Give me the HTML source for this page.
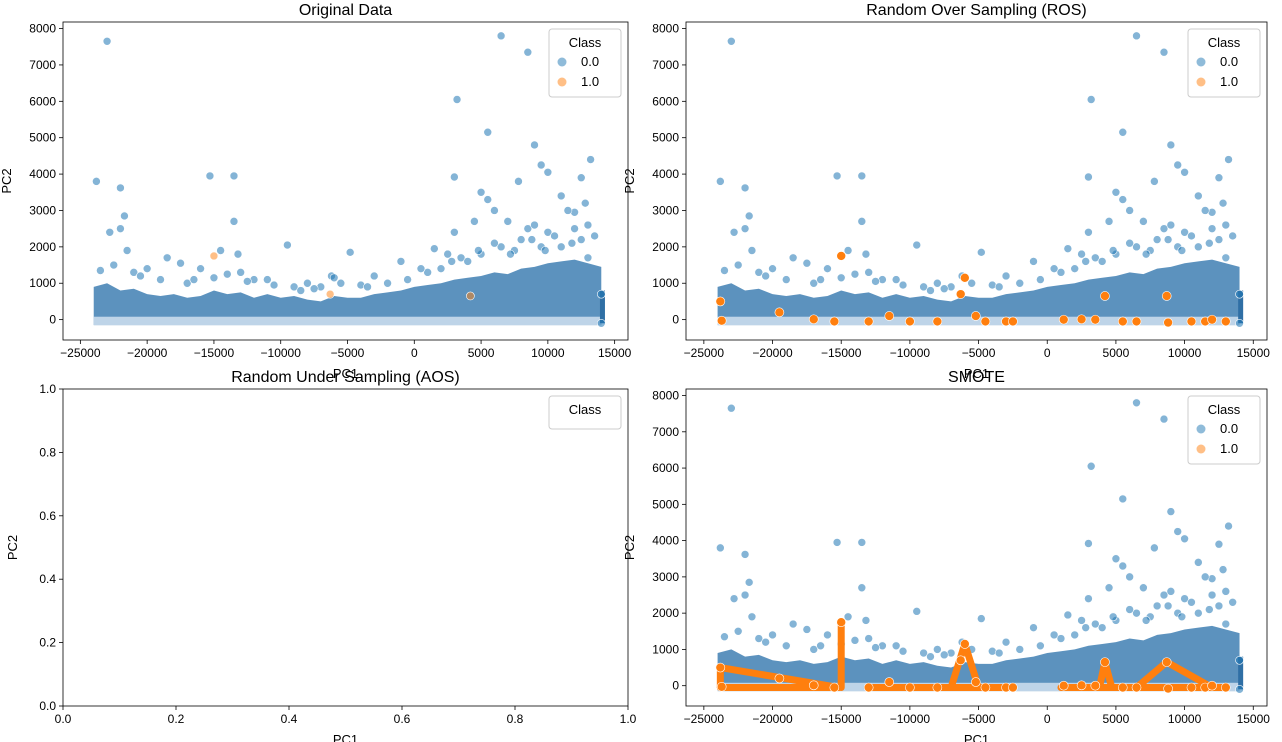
<!DOCTYPE html>
<html><head><meta charset="utf-8">
<style>
body{margin:0;background:#fff;}
svg{display:block;font-family:"Liberation Sans","DejaVu Sans",sans-serif;}
</style></head>
<body>
<svg id="fig" width="1282" height="742" xmlns="http://www.w3.org/2000/svg"></svg>
<script>
// ---- data ----
const bandX = [-24000,-23000,-22000,-21000,-20000,-19000,-18000,-17000,-16000,-15000,-14000,-13000,-12000,-11000,-10000,-9000,-8000,-7000,-6000,-5000,-4000,-3000,-2000,-1000,0,1000,2000,3000,4000,5000,6000,7000,8000,9000,10000,11000,12000,13000,14000];
const bandTop = [900,1000,800,850,700,650,700,600,650,800,700,750,600,700,600,650,550,500,650,600,600,700,750,800,900,950,1000,1100,1150,1200,1300,1250,1400,1450,1550,1600,1650,1550,1450];
const c0x = [-23000,6500,8500,3200,5500,9000,9500,13200,-23800,-22000,-15300,-13500,3000,7800,10000,12500,-21700,-13500,-9500,5000,5500,11000,-22800,-22000,6000,8500,12000,-21500,-14500,-13200,-4800,1500,3000,4500,7000,9000,10000,13000,-20000,-18500,-16000,-12000,-8000,-3000,-1000,2500,6500,8000,11500,12800,14000,14000,-17500,-11000,-7000,-6200,-23500,-22500,-21000,-19000,-17000,-15000,-14000,-12500,-10500,-9000,-7500,-5500,-4000,-2000,-500,1000,2000,3500,4000,5000,6000,7500,8800,9500,10500,11000,12000,12500,13500,-20500,-16500,-13000,-8500,-6000,-3500,500,2800,4800,7200,9800,11800,13000];
const c0y = [7650,7800,7350,6050,5150,4800,4250,4400,3800,3620,3950,3950,3920,3800,4050,3900,2850,2700,2050,3500,3300,3400,2400,2500,3000,2500,2950,1900,1900,1800,1850,1950,2400,2700,2700,2600,2400,2600,1400,1700,1400,1100,1000,1200,1600,1800,2000,2200,3000,3200,700,-100,1550,1100,900,1200,1350,1500,1300,1100,1000,1150,1250,1050,950,900,850,1000,950,1000,1100,1300,1400,1700,1600,1800,2100,1900,2200,2000,2300,2000,2500,2200,2300,1200,1100,1300,800,1150,900,1400,1600,1900,1800,1900,2100,1700];
const rosX = [-23800,-23700,-19500,-17000,-15000,-15500,-13000,-11500,-10000,-8000,-6300,-6000,-5200,-4500,-3000,-2500,1200,2500,3500,4200,5500,6500,8700,8800,10500,11500,12000,13000];
const rosY = [500,-30,200,10,1750,-50,-50,100,-50,-50,700,1150,100,-50,-50,-50,0,10,0,650,-50,-50,650,-80,-50,-50,0,-50];
const smoteLinesX = [[-23800,-15200],[-23800,-15200],[-15000,-15000],[-13000,-3000],[-7000,-6000,-5000],[1000,13000],[3800,4200,4700],[6500,8700,12000],[-23800,-23800]];
const smoteLinesY = [[500,-50],[-50,-50],[-50,1750],[-50,-50],[-50,1150,-50],[-50,-50],[-50,650,-50],[-50,650,-50],[-50,500]];
const xTicks = [-25000,-20000,-15000,-10000,-5000,0,5000,10000,15000];
const yTicks = [0,1000,2000,3000,4000,5000,6000,7000,8000];
const uTicks = [0,0.2,0.4,0.6,0.8,1.0];

const NS="http://www.w3.org/2000/svg";
const fig=document.getElementById('fig');
function mk(tag,attrs,parent){const e=document.createElementNS(NS,tag);for(const k in attrs)e.setAttribute(k,attrs[k]);(parent||fig).appendChild(e);return e;}

function panel(name,L,R,T,B,xd,yd,xt,yt,title,opts){
  const g=mk('g',{});
  
  
  const sx=v=>L+(v-xd[0])/(xd[1]-xd[0])*(R-L);
  const sy=v=>B-(v-yd[0])/(yd[1]-yd[0])*(B-T);
  if(opts.data){
    let pts=bandX.map((x,i)=>sx(x)+','+sy(bandTop[i])).join(' ');
    pts+=' '+sx(14000)+','+sy(-150)+' '+sx(-24000)+','+sy(-150);
    const band=mk('polygon',{points:pts,fill:'#3f7fb3','fill-opacity':0.85},g);
    
    
    const low=mk('rect',{x:sx(-24000),y:sy(80),width:sx(14000)-sx(-24000),height:sy(-150)-sy(80),fill:'#c9dcec','fill-opacity':0.9},g);
    
    
    const vb=mk('rect',{x:sx(13900),y:sy(800),width:5,height:sy(-100)-sy(800),fill:'#2f6fa5'},g);
    
    
    c0x.forEach((x,i)=>{
      const c=mk('circle',{cx:sx(x),cy:sy(c0y[i]),r:4,fill:'#1f77b4','fill-opacity':0.55,stroke:'#fff','stroke-width':0.6},g);
      
      
    });
    if(opts.smote){
      smoteLinesX.forEach((xs,i)=>{
        const p=xs.map((x,j)=>sx(x)+','+sy(smoteLinesY[i][j])).join(' ');
        const pl=mk('polyline',{points:p,fill:'none',stroke:'#ff7f0e','stroke-width':7,'stroke-linejoin':'round','stroke-linecap':'round'},g);
        
        
      });
    }
    if(opts.ros||opts.smote){
      rosX.forEach((x,i)=>{
        const c=mk('circle',{cx:sx(x),cy:sy(rosY[i]),r:4.5,fill:'#ff7f0e',stroke:'#fff','stroke-width':0.6},g);
        
        
      });
    } else {
      [[-15000,1750],[-6300,700],[4200,650]].forEach(p=>{
        const c=mk('circle',{cx:sx(p[0]),cy:sy(p[1]),r:4,fill:'#ff7f0e','fill-opacity':0.5,stroke:'#fff','stroke-width':0.6},g);
        
        
      });
    }
  }
  const fr=mk('rect',{x:L,y:T,width:R-L,height:B-T,fill:'none',stroke:'#000','stroke-width':0.8},g);
  
  
  xt.forEach(v=>{
    const x=sx(v);
    mk('line',{x1:x,x2:x,y1:B,y2:B+4,stroke:'#000','stroke-width':0.8},g);
    const t=mk('text',{x:x,y:B+17,'text-anchor':'middle','font-size':12},g);
    t.textContent=opts.fmt?opts.fmt(v):String(v).replace('-','\u2212');
    
    
  });
  yt.forEach(v=>{
    const y=sy(v);
    mk('line',{x1:L-4,x2:L,y1:y,y2:y,stroke:'#000','stroke-width':0.8},g);
    const t=mk('text',{x:L-7,y:y+4,'text-anchor':'end','font-size':12},g);
    t.textContent=opts.fmt?opts.fmt(v):v;
    
    
  });
  const xl=mk('text',{x:(L+R)/2,y:B+38,'text-anchor':'middle','font-size':13},g);
  xl.textContent='PC1';
  
  
  const ylx=L-(opts.fmt?46:52);
  const yl=mk('text',{x:ylx,y:(T+B)/2,'text-anchor':'middle','font-size':13,transform:`rotate(-90 ${ylx} ${(T+B)/2})`},g);
  yl.textContent='PC2';
  
  
  const ti=mk('text',{x:(L+R)/2,y:T-7,'text-anchor':'middle','font-size':16},g);
  ti.textContent=title;
  
  
  const lg=mk('g',{},g);
  
  
  const lw=72,lh=opts.data?68:33;
  mk('rect',{x:R-lw-7,y:T+7,width:lw,height:lh,rx:3,fill:'#fff','fill-opacity':0.85,stroke:'#ccc'},lg);
  const lt=mk('text',{x:R-lw/2-7,y:T+25,'text-anchor':'middle','font-size':13},lg);
  lt.textContent='Class';
  if(opts.data){
    [['0.0','#1f77b4'],['1.0','#ff7f0e']].forEach((e,i)=>{
      const y=T+44+i*20;
      mk('circle',{cx:R-lw+6,cy:y-4,r:4.5,fill:e[1],'fill-opacity':0.5},lg);
      const tx=mk('text',{x:R-lw+25,y:y,'font-size':13},lg);
      tx.textContent=e[0];
      
      
    });
  }
}
panel('original-data-panel',63,628,22,340,[-26300,16000],[-560,8180],xTicks,yTicks,'Original Data',{data:true});
panel('ros-panel',686,1267,22,340,[-26300,16000],[-560,8180],xTicks,yTicks,'Random Over Sampling (ROS)',{data:true,ros:true});
panel('aos-panel',63,628,389,706,[0,1],[0,1],uTicks,uTicks,'Random Under Sampling (AOS)',{data:false,fmt:v=>v.toFixed(1)});
panel('smote-panel',686,1267,389,706,[-26300,16000],[-560,8180],xTicks,yTicks,'SMOTE',{data:true,smote:true});
</script>
</body></html>
